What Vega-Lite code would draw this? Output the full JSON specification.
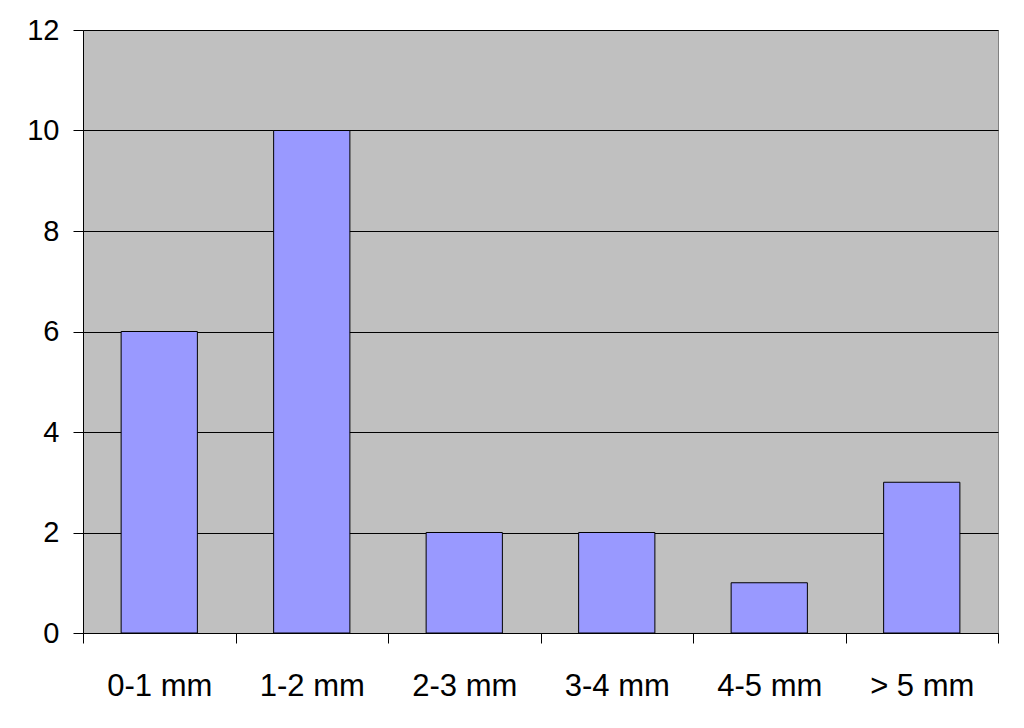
{
  "$schema": "https://vega.github.io/schema/vega-lite/v6.json",
  "width": 915,
  "height": 603,
  "autosize": {"type": "none"},
  "padding": {"left": 83, "top": 30, "right": 26, "bottom": 95},
  "background": "white",
  "config": {
    "font": "Liberation Sans",
    "view": {"fill": "#C0C0C0", "stroke": "#808080", "strokeWidth": 1}
  },
  "data": {
    "values": [
      {"size": "0-1 mm", "count": 6},
      {"size": "1-2 mm", "count": 10},
      {"size": "2-3 mm", "count": 2},
      {"size": "3-4 mm", "count": 2},
      {"size": "4-5 mm", "count": 1},
      {"size": "> 5 mm", "count": 3}
    ]
  },
  "mark": {"type": "bar", "fill": "#9999FF", "stroke": "black", "strokeWidth": 1, "width": {"band": 0.5}},
  "encoding": {
    "x": {
      "field": "size",
      "type": "nominal",
      "sort": null,
      "scale": {"paddingInner": 0, "paddingOuter": 0},
      "axis": {
        "title": null,
        "labelAngle": 0,
        "labelFontSize": 31,
        "labelColor": "black",
        "labelPadding": 28,
        "domainColor": "black",
        "ticks": true,
        "tickBand": "extent",
        "tickColor": "black",
        "tickSize": 10
      }
    },
    "y": {
      "field": "count",
      "type": "quantitative",
      "scale": {"domain": [0, 12]},
      "axis": {
        "title": null,
        "values": [0, 2, 4, 6, 8, 10, 12],
        "labelFontSize": 29,
        "labelColor": "black",
        "labelPadding": 14,
        "domainColor": "black",
        "tickColor": "black",
        "tickSize": 10,
        "gridColor": "black",
        "gridOpacity": 1,
        "grid": true
      }
    }
  }
}
